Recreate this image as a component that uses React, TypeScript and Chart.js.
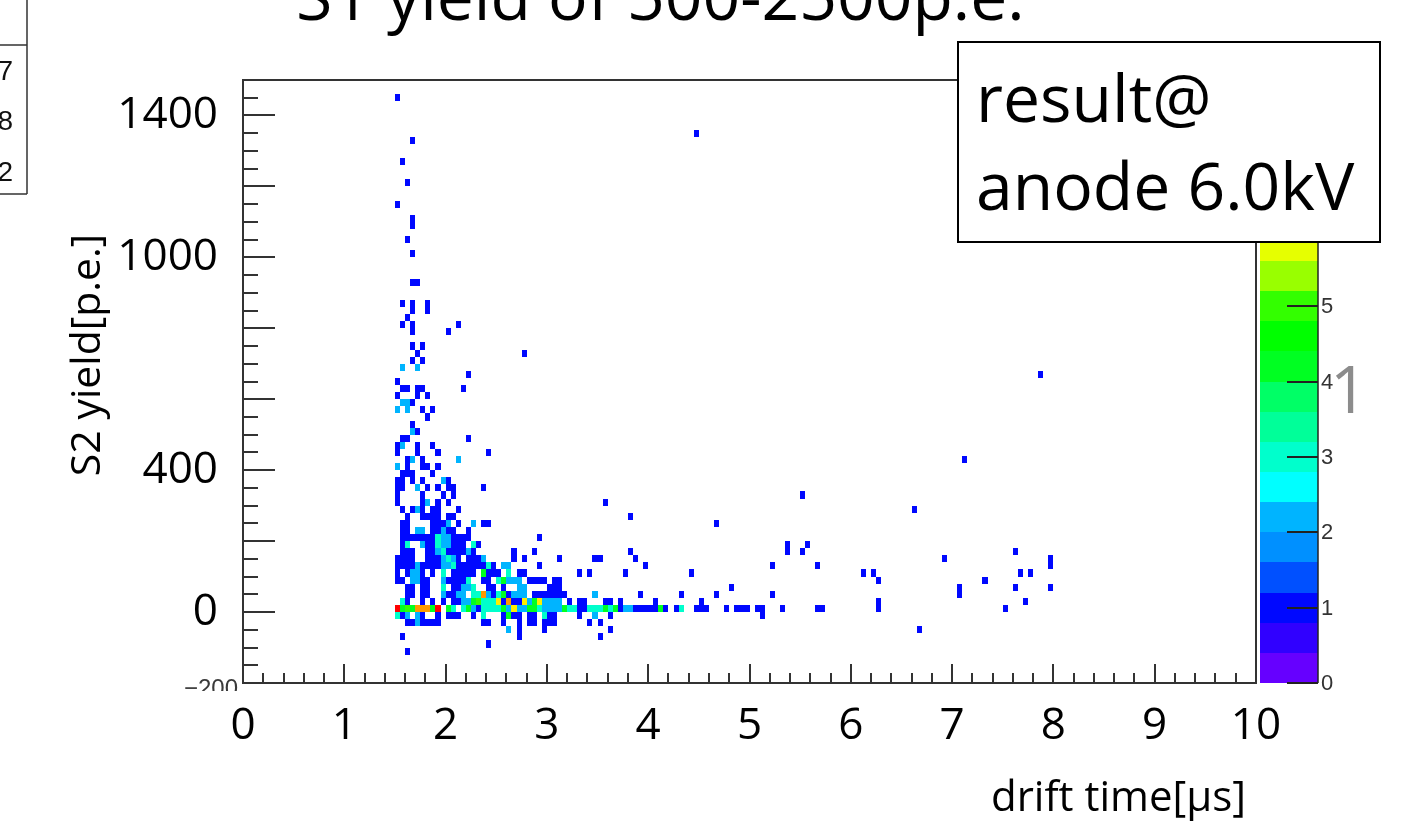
import React, { useEffect, useRef } from "react";
import { Chart, registerables } from "chart.js";

Chart.register(...registerables);

const WIDTH = 1412;
const HEIGHT = 828;

// Histogram binning: drift time [µs] x S2 yield [p.e.]
const T_BIN = 0.05;
const S_BIN = 20;
const T_MIN = 0;
const T_MAX = 10;
const S_MIN = -200;
const S_MAX = 1500;
const Z_MAX = 8;

const yieldLabels = [0, 400, 1000, 1400];
const paletteLabels = [0, 1, 2, 3, 4, 5, 6, 7, 8];
const statsDigits = ["7", "8", "2"];

// 20-step colour palette, from 0 entries (bottom) to Z_MAX (top)
const paletteColors = [
  "#6600ff", "#3000ff", "#0008ff", "#0050ff", "#0090ff",
  "#00b4ff", "#00ffff", "#00ffcc", "#00ff99", "#00ff66",
  "#00ff22", "#00ff00", "#33ff00", "#99ff00", "#e6ff00",
  "#ffee00", "#ffcc00", "#ff9900", "#ff5500", "#ff0000",
];

// Lower edge of each S2-yield bin that has entries [p.e.]
const yieldRows = [
  1440, 1340, 1320, 1260, 1200, 1140, 1100, 1080, 1040, 1000,
  920, 860, 840, 820, 800, 780, 740, 720, 700, 680,
  660, 640, 620, 600, 580, 560, 540, 520, 500, 480,
  460, 440, 420, 400, 380, 360, 340, 320, 300, 280,
  260, 240, 220, 200, 180, 160, 140, 120, 100, 80,
  60, 40, 20, 0, -20, -40, -60, -80, -100, -120,
];

// For each row above: [drift-time bin lower edge (µs), entries]
const rowBins: number[][][] = [
  [[1.5, 1]],
  [[4.45, 1]],
  [[1.65, 1]],
  [[1.55, 1]],
  [[1.6, 1]],
  [[1.5, 1]],
  [[1.65, 1]],
  [[1.65, 1]],
  [[1.6, 1]],
  [[1.65, 1]],
  [[1.65, 1], [1.7, 1]],
  [[1.55, 1], [1.65, 1], [1.8, 1]],
  [[1.65, 1], [1.8, 1]],
  [[1.6, 1]],
  [[1.55, 1], [1.65, 1], [2.1, 1]],
  [[1.65, 1], [2.0, 1]],
  [[1.65, 1], [1.75, 1]],
  [[1.7, 1], [2.75, 1]],
  [[1.65, 1], [1.75, 1]],
  [[1.55, 2], [1.7, 2]],
  [[2.2, 1], [7.85, 1]],
  [[1.5, 1]],
  [[1.55, 1], [1.6, 1], [1.7, 1], [1.75, 1], [2.15, 1]],
  [[1.5, 1], [1.7, 1], [1.8, 1]],
  [[1.55, 2], [1.6, 2], [1.65, 1]],
  [[1.5, 2], [1.6, 2], [1.75, 1], [1.85, 1]],
  [[1.8, 1]],
  [[1.65, 1]],
  [[1.65, 2], [1.7, 1]],
  [[1.55, 1], [1.6, 1], [2.2, 1]],
  [[1.5, 1], [1.55, 2], [1.7, 1], [1.85, 1]],
  [[1.5, 1], [1.7, 1], [1.9, 1], [2.4, 1]],
  [[1.6, 1], [1.65, 2], [1.75, 1], [2.1, 2], [7.1, 1]],
  [[1.5, 2], [1.6, 1], [1.75, 1], [1.8, 1], [1.9, 1]],
  [[1.55, 1], [1.6, 1], [1.65, 1], [1.85, 1]],
  [[1.5, 1], [1.55, 1], [1.65, 1], [1.75, 1], [1.95, 2], [2.0, 1]],
  [[1.5, 1], [1.55, 1], [1.7, 2], [1.8, 1], [1.9, 1], [2.0, 1], [2.05, 1], [2.35, 1]],
  [[1.5, 1], [1.75, 1], [1.95, 1], [2.05, 1], [5.5, 1]],
  [[1.5, 1], [1.75, 1], [1.8, 2], [1.9, 1], [2.0, 1], [3.55, 1]],
  [[1.55, 1], [1.65, 1], [1.7, 2], [1.75, 1], [1.85, 1], [1.9, 1], [2.1, 1], [6.6, 1]],
  [[1.6, 1], [1.75, 1], [1.8, 1], [1.85, 1], [1.9, 1], [2.0, 1], [2.05, 1], [3.8, 1]],
  [[1.55, 1], [1.6, 1], [1.85, 1], [1.9, 1], [1.95, 1], [2.0, 2], [2.1, 1], [2.25, 2], [2.35, 1], [2.4, 1], [4.65, 1]],
  [[1.55, 1], [1.6, 1], [1.7, 2], [1.75, 2], [1.85, 1], [1.9, 1], [1.95, 2], [2.0, 1], [2.05, 1], [2.2, 1]],
  [[1.55, 1], [1.6, 1], [1.65, 1], [1.7, 1], [1.75, 1], [1.8, 1], [1.85, 1], [1.9, 3], [1.95, 2], [2.0, 2], [2.05, 1], [2.1, 1], [2.15, 1], [2.2, 1], [2.9, 1]],
  [[1.55, 1], [1.6, 3], [1.75, 2], [1.8, 1], [1.85, 1], [1.9, 3], [1.95, 2], [2.0, 2], [2.05, 1], [2.1, 1], [2.15, 1], [2.25, 3], [2.3, 1], [5.35, 1], [5.55, 1]],
  [[1.55, 1], [1.6, 1], [1.65, 1], [1.8, 1], [1.85, 1], [1.9, 2], [1.95, 3], [2.0, 1], [2.05, 1], [2.1, 1], [2.15, 1], [2.2, 2], [2.25, 1], [2.65, 1], [2.85, 1], [3.8, 1], [5.35, 1], [5.5, 1], [7.6, 1]],
  [[1.5, 1], [1.55, 1], [1.6, 1], [1.65, 1], [1.8, 1], [1.85, 1], [1.9, 1], [1.95, 2], [2.0, 3], [2.05, 2], [2.1, 1], [2.2, 1], [2.25, 1], [2.3, 1], [2.35, 2], [2.65, 1], [2.75, 1], [3.1, 1], [3.45, 1], [3.5, 1], [3.85, 1], [6.9, 1], [7.95, 1]],
  [[1.5, 1], [1.55, 1], [1.6, 1], [1.65, 1], [1.7, 2], [1.75, 1], [1.8, 1], [1.85, 1], [1.9, 1], [1.95, 2], [2.0, 2], [2.05, 3], [2.1, 1], [2.15, 1], [2.2, 1], [2.25, 1], [2.3, 1], [2.35, 1], [2.4, 3], [2.45, 1], [2.55, 2], [2.6, 2], [2.9, 1], [3.95, 1], [5.2, 1], [5.65, 1], [7.95, 1]],
  [[1.5, 1], [1.6, 1], [1.65, 2], [1.7, 2], [1.75, 1], [1.85, 1], [1.95, 3], [2.05, 1], [2.1, 1], [2.15, 1], [2.2, 1], [2.25, 1], [2.35, 4], [2.4, 1], [2.45, 1], [2.5, 1], [2.6, 3], [2.7, 1], [2.75, 1], [3.3, 1], [3.4, 1], [3.75, 1], [4.4, 1], [6.1, 1], [6.2, 1], [7.65, 1], [7.75, 1]],
  [[1.5, 1], [1.55, 1], [1.65, 2], [1.7, 2], [1.75, 1], [1.8, 1], [1.95, 2], [2.0, 1], [2.05, 1], [2.1, 1], [2.15, 1], [2.2, 3], [2.35, 1], [2.4, 1], [2.5, 3], [2.55, 4], [2.6, 2], [2.65, 2], [2.7, 2], [2.8, 1], [2.85, 1], [2.9, 1], [2.95, 1], [3.05, 1], [3.1, 1], [6.25, 1], [7.3, 1]],
  [[1.6, 1], [1.65, 1], [1.75, 1], [1.8, 1], [1.95, 3], [2.05, 1], [2.1, 1], [2.15, 2], [2.2, 2], [2.25, 3], [2.4, 1], [2.45, 1], [2.55, 1], [2.7, 2], [2.75, 2], [3.0, 1], [3.05, 1], [3.1, 1], [4.8, 1], [7.05, 1], [7.6, 1], [7.95, 1]],
  [[1.6, 1], [1.65, 1], [1.75, 1], [1.8, 1], [1.95, 2], [2.0, 1], [2.05, 1], [2.1, 2], [2.15, 2], [2.25, 3], [2.3, 3], [2.35, 7], [2.4, 2], [2.45, 1], [2.5, 3], [2.55, 4], [2.6, 1], [2.65, 2], [2.7, 2], [2.75, 2], [2.85, 1], [2.9, 1], [2.95, 1], [3.0, 1], [3.05, 1], [3.1, 1], [3.15, 1], [3.45, 2], [3.9, 1], [4.3, 1], [4.65, 1], [5.2, 1], [7.05, 1]],
  [[1.55, 3], [1.6, 1], [1.75, 1], [1.85, 1], [1.95, 1], [2.05, 1], [2.1, 1], [2.15, 2], [2.2, 2], [2.25, 4], [2.3, 5], [2.35, 3], [2.4, 3], [2.45, 3], [2.5, 6], [2.55, 1], [2.6, 7], [2.65, 1], [2.7, 1], [2.75, 6], [2.8, 2], [2.85, 4], [2.9, 6], [2.95, 2], [3.0, 2], [3.05, 2], [3.1, 2], [3.2, 1], [3.3, 1], [3.35, 1], [3.55, 1], [3.6, 1], [3.7, 1], [4.05, 1], [4.5, 1], [6.25, 1], [7.7, 1]],
  [[1.5, 8], [1.55, 4], [1.6, 5], [1.65, 4], [1.7, 7], [1.75, 7], [1.8, 7], [1.85, 4], [1.9, 8], [2.0, 4], [2.05, 3], [2.15, 3], [2.2, 4], [2.25, 2], [2.3, 1], [2.35, 3], [2.4, 3], [2.45, 3], [2.5, 3], [2.55, 4], [2.6, 2], [2.65, 6], [2.7, 2], [2.75, 2], [2.8, 4], [2.85, 4], [2.9, 3], [2.95, 2], [3.0, 2], [3.05, 2], [3.1, 2], [3.15, 4], [3.2, 3], [3.25, 3], [3.3, 1], [3.35, 1], [3.4, 3], [3.45, 3], [3.5, 3], [3.55, 4], [3.6, 3], [3.65, 4], [3.7, 1], [3.75, 2], [3.8, 2], [3.85, 1], [3.9, 1], [3.95, 1], [4.0, 1], [4.05, 1], [4.1, 4], [4.15, 1], [4.25, 1], [4.3, 3], [4.45, 1], [4.5, 1], [4.55, 1], [4.75, 1], [4.85, 1], [4.9, 1], [4.95, 1], [5.05, 1], [5.1, 1], [5.3, 1], [5.65, 1], [5.7, 1], [6.25, 1], [7.5, 1]],
  [[1.5, 3], [1.55, 1], [1.6, 2], [1.7, 2], [1.75, 1], [1.9, 1], [2.0, 1], [2.05, 1], [2.1, 1], [2.25, 1], [2.35, 3], [2.55, 1], [2.6, 4], [2.65, 1], [2.7, 1], [2.8, 1], [2.85, 1], [2.95, 3], [3.0, 1], [3.05, 1], [3.3, 1], [3.45, 2], [3.6, 1], [5.1, 1]],
  [[1.6, 1], [1.65, 1], [1.7, 2], [1.75, 1], [1.8, 1], [1.85, 1], [1.9, 1], [2.35, 1], [2.4, 1], [2.55, 1], [2.7, 1], [2.8, 1], [2.85, 1], [2.95, 1], [3.0, 1], [3.05, 1], [3.4, 1], [3.5, 1]],
  [[2.6, 2], [2.7, 1], [2.95, 1], [3.6, 1], [6.65, 1]],
  [[1.55, 1], [2.7, 1], [3.5, 1]],
  [[2.4, 1]],
  [[1.6, 1]],
];

type Cell = { x: number; y: number; n: number };

const cells: Cell[] = [];
yieldRows.forEach((s, i) => {
  (rowBins[i] || []).forEach(([t, n]) => cells.push({ x: t, y: s, n }));
});

function colorFor(n: number): string {
  const i = Math.min(paletteColors.length - 1, Math.floor((n / Z_MAX) * paletteColors.length));
  return paletteColors[Math.max(0, i)];
}

const SANS = '"Open Sans"';
const ROOTFONT = '"Liberation Sans"';

const colzPlugin = {
  id: "colzHistogram",
  beforeDatasetsDraw(chart: any) {
    const { ctx, chartArea: a } = chart;
    const xs = chart.scales.x;
    const ys = chart.scales.y;
    ctx.save();
    ctx.beginPath();
    ctx.rect(a.left, a.top, a.right - a.left, a.bottom - a.top);
    ctx.clip();
    for (const p of chart.data.datasets[0].data as Cell[]) {
      const l = Math.round(xs.getPixelForValue(p.x));
      const r = Math.round(xs.getPixelForValue(p.x + T_BIN));
      const t = Math.round(ys.getPixelForValue(p.y + S_BIN));
      const b = Math.round(ys.getPixelForValue(p.y));
      ctx.fillStyle = colorFor(p.n);
      ctx.fillRect(l, t, r - l, b - t);
    }
    ctx.restore();
  },
  afterDraw(chart: any) {
    const { ctx, chartArea: a } = chart;
    const xs = chart.scales.x;
    const ys = chart.scales.y;
    const zs = chart.scales.z;
    ctx.save();

    // frame
    ctx.strokeStyle = "#333";
    ctx.lineWidth = 2;
    ctx.strokeRect(a.left, a.top, a.right - a.left, a.bottom - a.top);

    // inward ticks on the drift-time axis (major 1 µs, minor 0.2 µs)
    ctx.beginPath();
    for (let k = 0; k <= 50; k++) {
      const px = Math.round(xs.getPixelForValue(k * 0.2));
      const len = k % 5 === 0 ? 19 : 10;
      ctx.moveTo(px, a.bottom);
      ctx.lineTo(px, a.bottom - len);
    }
    // inward ticks on the S2 axis (major 200, minor 50)
    for (let k = -4; k <= 30; k++) {
      const v = k * 50;
      const py = Math.round(ys.getPixelForValue(v));
      const len = v % 200 === 0 ? 32 : 15;
      ctx.moveTo(a.left, py);
      ctx.lineTo(a.left + len, py);
    }
    ctx.stroke();

    // lowest S2 label of the frame axis, partly covered below
    ctx.save();
    ctx.beginPath();
    ctx.rect(0, 0, a.left, a.bottom + 8);
    ctx.clip();
    ctx.fillStyle = "#3a3a3a";
    ctx.font = `24px ${ROOTFONT}`;
    ctx.textAlign = "right";
    ctx.textBaseline = "middle";
    ctx.fillText("\u2212200", a.left - 5, ys.getPixelForValue(S_MIN) + 6);
    ctx.restore();

    // colour palette
    const pl = a.right + 4;
    const pr = a.right + 62;
    const step = Z_MAX / paletteColors.length;
    paletteColors.forEach((c, i) => {
      const y0 = Math.round(zs.getPixelForValue(i * step));
      const y1 = Math.round(zs.getPixelForValue((i + 1) * step));
      ctx.fillStyle = c;
      ctx.fillRect(pl, y1, pr - pl, y0 - y1);
    });
    ctx.strokeStyle = "#222";
    ctx.lineWidth = 1.5;
    ctx.beginPath();
    ctx.moveTo(pr, a.top);
    ctx.lineTo(pr, a.bottom);
    ctx.stroke();
    ctx.lineWidth = 2;
    ctx.beginPath();
    paletteLabels.forEach((v) => {
      const py = Math.round(zs.getPixelForValue(v));
      ctx.moveTo(pr - 31, py);
      ctx.lineTo(pr, py);
    });
    ctx.stroke();
    ctx.fillStyle = "#333";
    ctx.font = `22px ${ROOTFONT}`;
    ctx.textAlign = "left";
    ctx.textBaseline = "middle";
    paletteLabels.forEach((v) => {
      ctx.fillText(String(v), pr + 3, zs.getPixelForValue(v) + 1);
    });

    // neighbouring statistics box fragment
    ctx.strokeStyle = "#333";
    ctx.lineWidth = 1.5;
    ctx.beginPath();
    ctx.moveTo(27, 0);
    ctx.lineTo(27, 194);
    ctx.moveTo(0, 45);
    ctx.lineTo(27, 45);
    ctx.moveTo(0, 194);
    ctx.lineTo(27, 194);
    ctx.stroke();
    ctx.fillStyle = "#111";
    ctx.font = `28px ${ROOTFONT}`;
    ctx.textAlign = "right";
    ctx.textBaseline = "alphabetic";
    [80, 130, 181].forEach((by, i) => ctx.fillText(statsDigits[i], 13, by));

    // titles
    ctx.fillStyle = "#000";
    ctx.font = `66px ${SANS}`;
    ctx.textAlign = "left";
    ctx.fillText("S1 yield of 500-2500p.e.", 296, 20);

    ctx.font = `42px ${SANS}`;
    ctx.fillText("drift time[\u03bcs]", 991, 811);

    ctx.save();
    ctx.translate(100, 355);
    ctx.rotate(-Math.PI / 2);
    ctx.textAlign = "center";
    ctx.font = `41px ${SANS}`;
    ctx.fillText("S2 yield[p.e.]", 0, 0);
    ctx.restore();

    // gray digit on the right
    ctx.fillStyle = "#8c8c8c";
    ctx.font = `66px ${SANS}`;
    ctx.fillText("1", 1330, 413);

    // annotation box
    ctx.fillStyle = "#fff";
    ctx.fillRect(958, 42, 422, 200);
    ctx.strokeStyle = "#000";
    ctx.lineWidth = 2;
    ctx.strokeRect(958, 42, 422, 200);
    ctx.fillStyle = "#000";
    ctx.font = `66px ${SANS}`;
    ctx.textAlign = "left";
    ctx.fillText("result@", 976, 122);
    ctx.fillText("anode 6.0kV", 976, 210);

    ctx.restore();
  },
};

export default function App() {
  const canvasRef = useRef<HTMLCanvasElement | null>(null);

  useEffect(() => {
    const canvas = canvasRef.current;
    if (!canvas) return;
    const chart = new Chart(canvas, {
      type: "scatter",
      data: {
        datasets: [
          {
            data: cells as any,
            pointRadius: 0,
            pointHoverRadius: 0,
            showLine: false,
          },
        ],
      },
      options: {
        animation: false,
        responsive: false,
        maintainAspectRatio: false,
        devicePixelRatio: 1,
        events: [],
        layout: { padding: { top: 80, right: 156, left: 0, bottom: 0 } },
        plugins: {
          legend: { display: false },
          tooltip: { enabled: false },
        },
        scales: {
          x: {
            type: "linear",
            min: T_MIN,
            max: T_MAX,
            grid: { display: false, drawTicks: false },
            border: { display: false },
            ticks: {
              stepSize: 1,
              autoSkip: false,
              includeBounds: false,
              maxRotation: 0,
              padding: 17,
              color: "#000",
              font: { family: SANS, size: 44 },
            },
            afterFit: (s: any) => {
              s.height = 145;
            },
          },
          y: {
            type: "linear",
            min: S_MIN,
            max: S_MAX,
            grid: { display: false, drawTicks: false },
            border: { display: false },
            ticks: {
              stepSize: 200,
              autoSkip: false,
              includeBounds: false,
              padding: 25,
              color: "#000",
              font: { family: SANS, size: 44 },
              callback: (v: any) => (yieldLabels.includes(Number(v)) ? String(v) : ""),
            },
            afterFit: (s: any) => {
              s.width = 243;
            },
          },
          z: {
            type: "linear",
            axis: "y",
            position: "right",
            display: false,
            min: 0,
            max: Z_MAX,
          },
        },
      } as any,
      plugins: [colzPlugin],
    });
    return () => chart.destroy();
  }, []);

  return (
    <div
      style={{
        position: "absolute",
        left: 0,
        top: 0,
        width: WIDTH,
        height: HEIGHT,
        overflow: "hidden",
        background: "#fff",
      }}
    >
      <canvas ref={canvasRef} width={WIDTH} height={HEIGHT} style={{ display: "block" }} />
    </div>
  );
}
